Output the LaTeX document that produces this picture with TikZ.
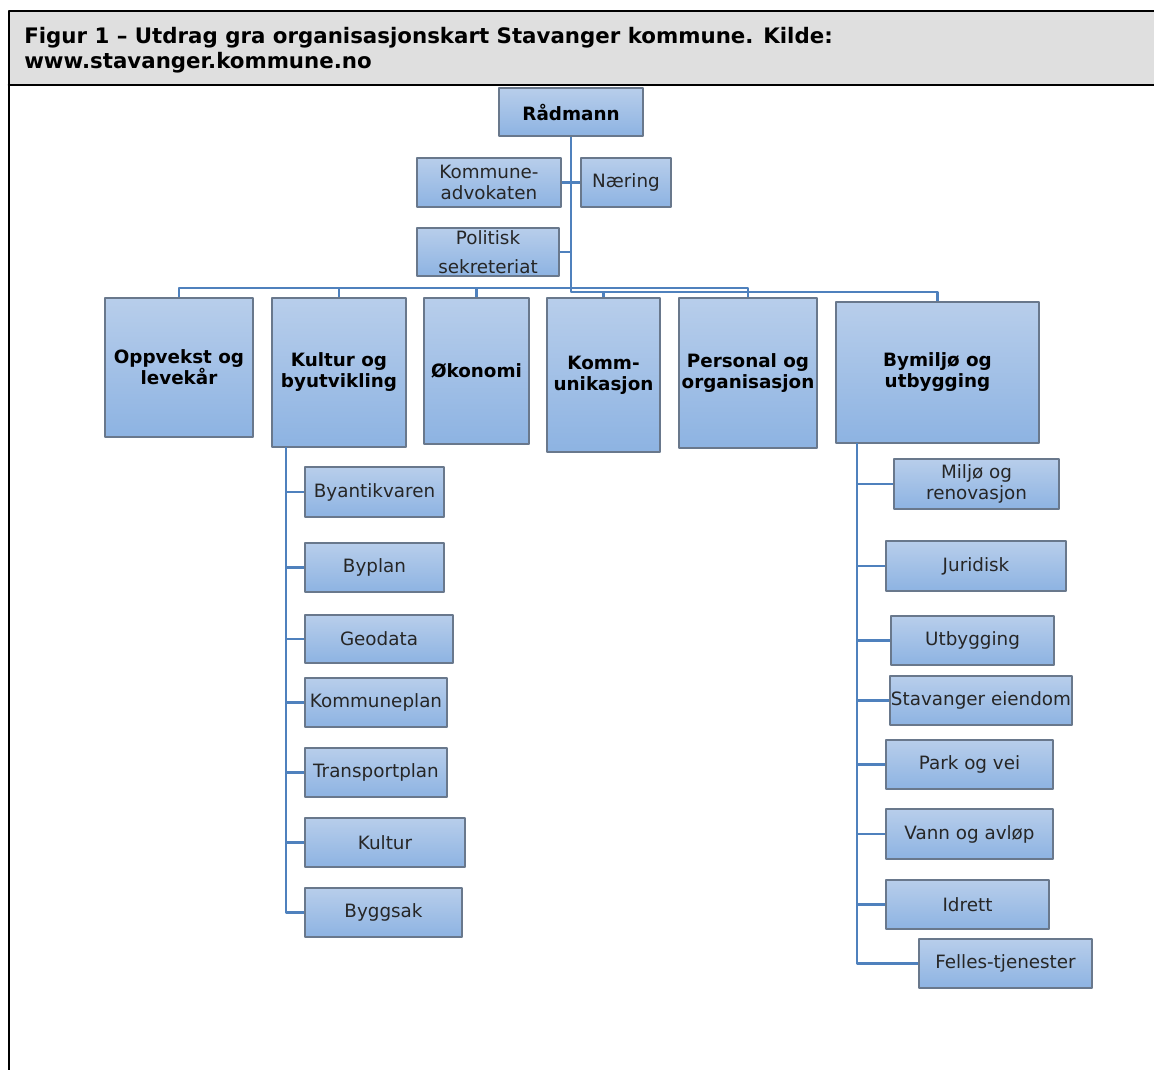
\documentclass[tikz,border=0pt]{standalone}
\usepackage{fontspec}
\setmainfont{DejaVu Sans}
\definecolor{linjeblaa}{RGB}{79,129,189}
\definecolor{boksopp}{RGB}{184,206,235}
\definecolor{boksned}{RGB}{141,179,226}
\definecolor{boksrand}{RGB}{105,120,140}
\definecolor{toppgraa}{RGB}{223,223,223}
\begin{document}
\begin{tikzpicture}[x=0.75pt,y=-0.75pt,line cap=round,line join=round,
  boks/.style={draw=boksrand,line width=0.9pt,top color=boksopp,bottom color=boksned,
    inner sep=0pt,align=center,text=black!85,font=\fontsize{13.75}{16}\selectfont},
  hoved/.style={boks,font=\bfseries\fontsize{13.75}{15.75}\selectfont,text=black},
  sz/.style 2 args={minimum width=#1*0.75pt,minimum height=#2*0.75pt},
  linje/.style={draw=linjeblaa,line width=2.2pt,line cap=butt}]
\useasboundingbox (0,0) rectangle (1154,1070);
% ramme og overskrift
\fill[toppgraa] (9,11) rectangle (1154,85);
\draw[line width=2pt] (1154,11) -- (9,11) -- (9,1070);
\draw[line width=2pt] (9,85) -- (1154,85);
\node[anchor=north west,align=left,inner sep=0pt,font=\bfseries\fontsize{16}{18.75}\selectfont] (tittel) at (24,27)
  {Figur 1 -- Utdrag gra organisasjonskart Stavanger kommune. Kilde:\\www.stavanger.kommune.no};
% toppledelse
\node[hoved,sz={144}{48}] (raad) at (571,112) {Rådmann};
\node[boks,sz={144}{49}] (advo) at (489,182.5) {Kommune-\\advokaten};
\node[boks,sz={90}{49}] (naer) at (626,182.5) {Næring};
\node[boks,sz={142}{48},font=\fontsize{13.75}{21.75}\selectfont] (pol) at (488,252) {Politisk\\sekreteriat};
% direktørområder
\node[hoved,sz={148}{139}] (opp) at (179,367.5) {Oppvekst og\\levekår};
\node[hoved,sz={134}{149}] (kult) at (339,372.5) {Kultur og\\byutvikling};
\node[hoved,sz={105}{146}] (oko) at (476.5,371) {Økonomi};
\node[hoved,sz={113}{154}] (komm) at (603.5,375) {Komm-\\unikasjon};
\node[hoved,sz={138}{150}] (pers) at (748,373) {Personal og\\organisasjon};
\node[hoved,sz={203}{141}] (bym) at (937.5,372.5) {Bymiljø og\\utbygging};
% kultur og byutvikling
\node[boks,sz={139}{50}] (byant) at (374.5,492) {Byantikvaren};
\node[boks,sz={139}{49}] (bypl) at (374.5,567.5) {Byplan};
\node[boks,sz={148}{48}] (geo) at (379,639) {Geodata};
\node[boks,sz={142}{49}] (kplan) at (376,702.5) {Kommuneplan};
\node[boks,sz={142}{49}] (tplan) at (376,772.5) {Transportplan};
\node[boks,sz={160}{49}] (kultur) at (385,842.5) {Kultur};
\node[boks,sz={157}{49}] (byggs) at (383.5,912.5) {Byggsak};
% bymiljø og utbygging
\node[boks,sz={165}{50}] (milj) at (976.5,484) {Miljø og\\renovasjon};
\node[boks,sz={180}{50}] (jur) at (976,566) {Juridisk};
\node[boks,sz={163}{49}] (utb) at (972.5,640.5) {Utbygging};
\node[boks,sz={182}{49}] (eiend) at (981,700.5) {Stavanger eiendom};
\node[boks,sz={167}{49}] (park) at (969.5,764.5) {Park og vei};
\node[boks,sz={167}{50}] (vann) at (969.5,834) {Vann og avløp};
\node[boks,sz={163}{49}] (idr) at (967.5,904.5) {Idrett};
\node[boks,sz={173}{49}] (felles) at (1005.5,963.5) {Felles-tjenester};
% linjer
\coordinate (tA) at (571,288);
\coordinate (tB) at (571,292);
\draw[linje] (raad.south) -- (tB) -| (bym.north);
\draw[linje] (tB -| komm.north) -- (komm.north);
\draw[linje] (opp.north) |- (pers.north |- tA) -- (pers.north);
\foreach \n in {kult,oko}
{
\draw[linje] (\n.north) -- (\n.north |- tA);
}
\draw[linje] (advo.east) -- (advo.east -| tA);
\draw[linje] (naer.west) -- (naer.west -| tA);
\draw[linje] (pol.east) -- (pol.east -| tA);
\coordinate (kv) at (286,447);
\foreach \n in {byant,bypl,geo,kplan,tplan,kultur,byggs}
{
\draw[linje] (kv) |- (\n.west);
}
\coordinate (bv) at (857,443);
\foreach \n in {milj,jur,utb,eiend,park,vann,idr,felles}
{
\draw[linje] (bv) |- (\n.west);
}
\end{tikzpicture}
\end{document}
